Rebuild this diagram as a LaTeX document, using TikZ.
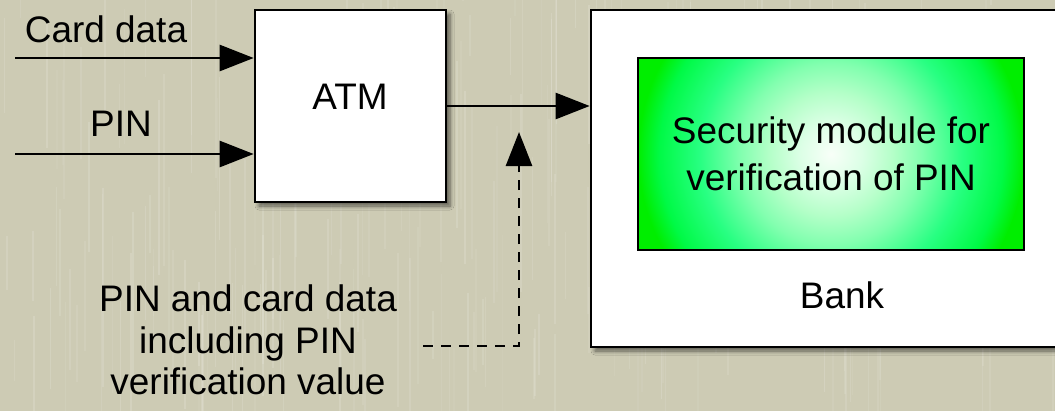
\documentclass[tikz,border=0pt]{standalone}
\usepackage{fontspec}
\setmainfont{Liberation Sans}
\usetikzlibrary{arrows.meta,shadows,shadows.blur}
\definecolor{bgcol}{RGB}{205,203,180}
\definecolor{hsmc0}{RGB}{248,255,248}
\definecolor{hsmc1}{RGB}{220,255,230}
\definecolor{hsmc2}{RGB}{180,255,200}
\definecolor{hsmc3}{RGB}{130,255,175}
\definecolor{hsmc4}{RGB}{40,255,130}
\definecolor{hsmc5}{RGB}{0,250,70}
\definecolor{hsmc6}{RGB}{0,238,0}
\pgfdeclareradialshading{hsmshade}{\pgfpoint{0bp}{0bp}}{color(0bp)=(hsmc0); color(4bp)=(hsmc1); color(8bp)=(hsmc2); color(11.75bp)=(hsmc3); color(17bp)=(hsmc4); color(22.25bp)=(hsmc5); color(25bp)=(hsmc6); color(50bp)=(hsmc6)}
\begin{document}
\begin{tikzpicture}[x=0.75pt,y=-0.75pt,
  lbl/.style={font=\fontsize{27.7pt}{31pt}\selectfont, inner sep=0pt},
  boxed/.style={draw=black, line width=2pt, fill=white, inner sep=0pt,
    blur shadow={shadow xshift=3pt,shadow yshift=-3pt,shadow blur steps=6,shadow blur radius=3pt,shadow opacity=55}},
  conn/.style={line width=2pt, -{Triangle[length=25.5pt,width=19.5pt]}},
  ]
\fill[bgcol] (0,0) rectangle (1055,411);
\useasboundingbox (0,0) rectangle (1055,411);
% faint paper texture
\pgfmathsetseed{7}
\foreach \i in {1,...,260}{
  \pgfmathsetmacro{\xx}{rnd*1055}
  \pgfmathsetmacro{\ya}{rnd*411-60}
  \pgfmathsetmacro{\yb}{\ya+40+rnd*160}
  \pgfmathsetmacro{\op}{0.05+0.10*rnd}
  \draw[white, opacity=\op, line width=1.2pt] (\xx,\ya) -- (\xx,\yb);
}
\node[boxed, minimum width=143.25pt, minimum height=144pt] (atm) at (350.5,106) {};
\node[lbl] (atmlbl) at (350,97) {ATM};
\node[boxed, minimum width=353.25pt, minimum height=252.75pt] (bank) at (826.5,178.5) {};
\node[draw, line width=2pt, fill=hsmc6, minimum width=289.5pt, minimum height=144pt,
  path picture={\shade[shading=hsmshade] (path picture bounding box.center) circle (144.75pt);},
  inner sep=0pt, align=center, font=\fontsize{27.7pt}{35pt}\selectfont] (hsm) at (831,154)
  {Security module for\\verification of PIN};
\node[lbl] (banklbl) at (842,295) {Bank};
\node[lbl] (cardlbl) at (106,29) {Card data};
\node[lbl] (pinlbl) at (121,124) {PIN};
\node[lbl, align=center] (note) at (248,340) {PIN and card data\\including PIN\\verification value};
\coordinate (cardin) at (15,58);
\coordinate (pinin) at (15,154);
\draw[conn] (cardin) -- (cardin -| atm.west);
\draw[conn] (pinin) -- (pinin -| atm.west);
\draw[conn] (atm.east) -- (atm.east -| bank.west);
\coordinate (dstart) at (423,346);
\coordinate (dend) at (519,132);
\draw[conn, dash pattern=on 7.5pt off 6pt] (dstart) -| (dend);
\end{tikzpicture}
\end{document}
